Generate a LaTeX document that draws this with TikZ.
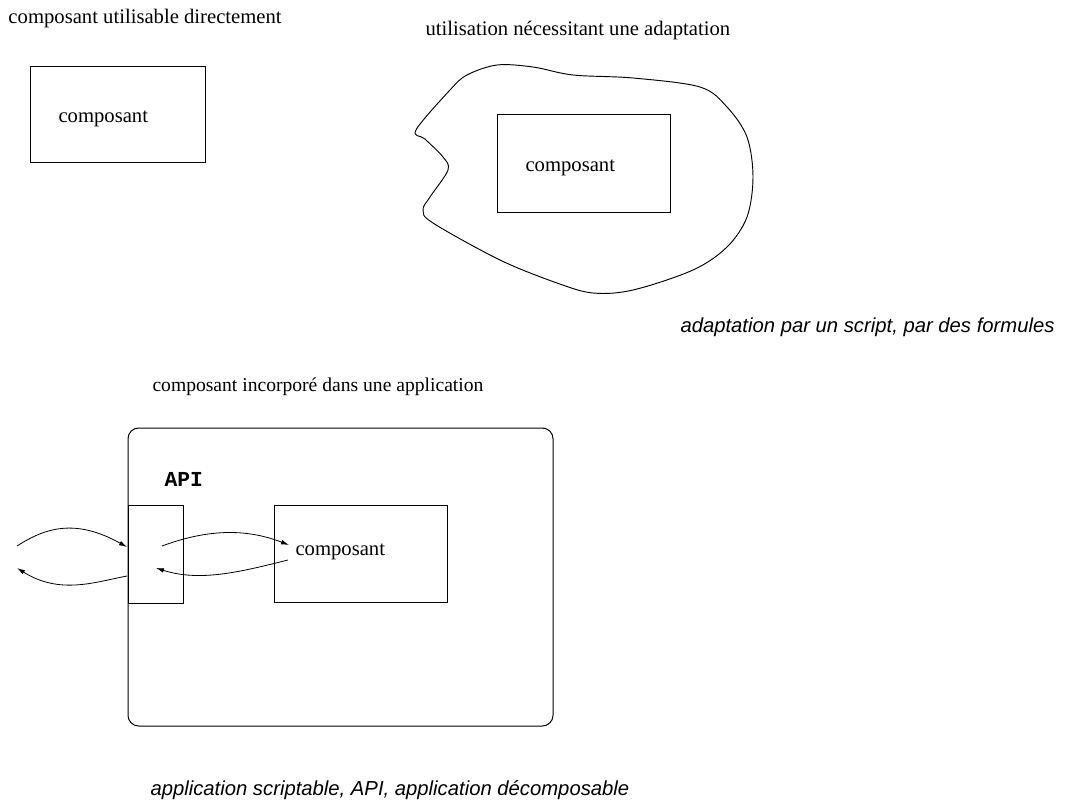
\documentclass[tikz,border=0pt]{standalone}
\usepackage{fontspec}
\setmainfont{Liberation Serif}
\newfontfamily\hsans{Liberation Sans}
\newfontfamily\cmono{Liberation Mono}
\usetikzlibrary{arrows.meta}
\begin{document}
\begin{tikzpicture}[x=0.75pt,y=-0.75pt,
  line width=0.75pt,
  serif/.style={font=\fontsize{15.5}{17}\selectfont, anchor=base west, inner sep=0},
  itsans/.style={font=\hsans\itshape\fontsize{15.2}{17}\selectfont, anchor=base west, inner sep=0},
  apilbl/.style={font=\cmono\bfseries\fontsize{16}{18}\selectfont, anchor=base west, inner sep=0},
  arr/.style={-{Latex[length=6pt,width=3.5pt]}, line width=0.6pt}]
\useasboundingbox (0,0) rectangle (1065,804);

% titles
\node[serif] (t1) at (8,23) {composant utilisable directement};
\node[serif] (t2) at (425,35) {utilisation nécessitant une adaptation};
\node[itsans] (t3) at (680,332) {adaptation par un script, par des formules};
\node[serif, font=\fontsize{14.7}{17}\selectfont] (t4) at (152,391) {composant incorporé dans une application};
\node[itsans] (t5) at (150,795) {application scriptable, API, application décomposable};

% box 1
\draw (30,66) rectangle (205,162);
\node[serif] (c1) at (58,122) {composant};

% blob
\draw[line width=0.7pt] plot[smooth cycle, tension=0.55] coordinates {
 (416,130) (450,90) (467,75) (497,65) (533,67) (573,75) (633,78) (700,87)
 (727,107) (747,137) (753,177) (747,217) (727,247) (693,270) (633,290)
 (593,293) (557,283) (500,260) (433,223) (423,210) (430,197) (448,170)
 (443,157) (425,139)};
\draw (497,114) rectangle (670,212);
\node[serif] (c2) at (525,171) {composant};

% application
\draw[rounded corners=8] (128,428) rectangle (553,726);
\node[apilbl] (api) at (164,486) {API};
\draw (128,505) rectangle (183,603);
\draw (274,505) rectangle (447,602);
\node[serif] (c3) at (295,555) {composant};

% arrows
\coordinate (a1s) at (17,546);
\coordinate (a1e) at (127,547);
\coordinate (a2s) at (127,576);
\coordinate (a2e) at (17,568);
\coordinate (a3s) at (162,546);
\coordinate (a3e) at (289,545);
\coordinate (a4s) at (288,560);
\coordinate (a4e) at (156,568);
\draw[arr] (a1s) .. controls (45,528) and (75,518) .. (a1e);
\draw[arr] (a2s) .. controls (95,582) and (60,595) .. (a2e);
\draw[arr] (a3s) .. controls (200,532) and (240,526) .. (a3e);
\draw[arr] (a4s) .. controls (240,572) and (200,582) .. (a4e);
\end{tikzpicture}
\end{document}
